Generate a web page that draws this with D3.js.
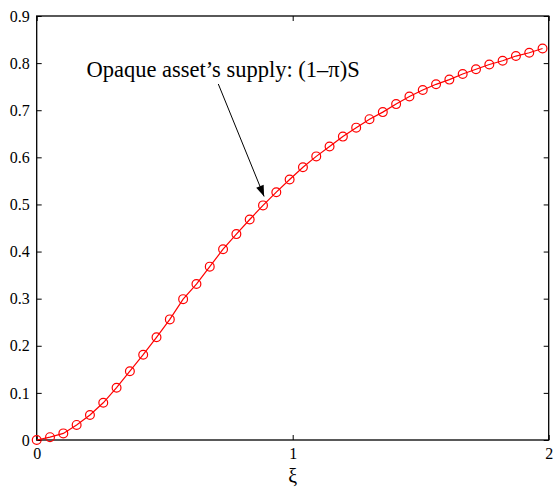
<!DOCTYPE html>
<html>
<head>
<meta charset="utf-8">
<script src="https://cdn.jsdelivr.net/npm/d3@7"></script>
<style>
  html, body { margin: 0; padding: 0; background: #fff; }
  svg { display: block; }
  text { font-family: "Liberation Serif", "Times New Roman", serif; fill: #000; }
</style>
</head>
<body>
<svg id="chart" width="554" height="489"></svg>
<script>
// ---- data ----
const xiValues = [0, 0.052, 0.104, 0.156, 0.208, 0.26, 0.312, 0.364, 0.416, 0.468,
  0.52, 0.572, 0.624, 0.676, 0.728, 0.78, 0.832, 0.884, 0.936, 0.988,
  1.04, 1.092, 1.144, 1.196, 1.248, 1.3, 1.352, 1.404, 1.456, 1.508,
  1.56, 1.612, 1.664, 1.716, 1.768, 1.82, 1.872, 1.924, 1.976];
const supplyValues = [0.0, 0.006, 0.014, 0.032, 0.053, 0.079, 0.111, 0.146, 0.181, 0.218,
  0.256, 0.299, 0.331, 0.368, 0.405, 0.437, 0.468, 0.498, 0.526, 0.553,
  0.579, 0.602, 0.623, 0.644, 0.663, 0.681, 0.696, 0.713, 0.729, 0.743,
  0.755, 0.765, 0.777, 0.787, 0.797, 0.805, 0.815, 0.822, 0.831];
const xTicks = [0, 1, 2];
const yTicks = [0, 0.1, 0.2, 0.3, 0.4, 0.5, 0.6, 0.7, 0.8, 0.9];
const xLabel = "ξ";
const annotationText = "Opaque asset’s supply: (1–π)S";
const annotationTarget = [0.9, 0.5];

(function () {
// ---- layout ----
const L = 36.7, R = 548.7, T = 16, B = 440;
const svg = d3.select("#chart");
const x = d3.scaleLinear().domain([0, 2]).range([L, R]);
const y = d3.scaleLinear().domain([0, 0.9]).range([B, T]);

const data = xiValues.map((v, i) => ({ x: v, y: supplyValues[i] }));

// axes (inward ticks on all four sides)
const tickLen = 5;
const gBottom = svg.append("g").attr("transform", `translate(0,${B})`)
  .call(d3.axisBottom(x).tickValues(xTicks).tickFormat(d3.format("d")).tickSizeInner(-tickLen).tickSizeOuter(0).tickPadding(8));
const gTop = svg.append("g").attr("transform", `translate(0,${T})`)
  .call(d3.axisTop(x).tickValues(xTicks).tickFormat("").tickSizeInner(-tickLen).tickSizeOuter(0));
const gLeft = svg.append("g").attr("transform", `translate(${L},0)`)
  .call(d3.axisLeft(y).tickValues(yTicks).tickFormat(d => d === 0 ? "0" : d3.format(".1f")(d)).tickSizeInner(-tickLen).tickSizeOuter(0).tickPadding(7));
const gRight = svg.append("g").attr("transform", `translate(${R},0)`)
  .call(d3.axisRight(y).tickValues(yTicks).tickFormat("").tickSizeInner(-tickLen).tickSizeOuter(0));

[gBottom, gTop, gLeft, gRight].forEach(g => {
  g.select(".domain").remove();
  g.selectAll(".tick line").attr("stroke", "#000").attr("stroke-width", 1);
  g.selectAll(".tick text").attr("font-size", 16).attr("font-family", "Liberation Serif");
});

// box
svg.append("rect").attr("x", L).attr("y", T).attr("width", R - L).attr("height", B - T)
  .attr("fill", "none").attr("stroke", "#000").attr("stroke-width", 1.3);

// line + markers
svg.append("path").datum(data)
  .attr("fill", "none").attr("stroke", "#ff0000").attr("stroke-width", 1.2)
  .attr("d", d3.line().x(d => x(d.x)).y(d => y(d.y)));
svg.append("g").selectAll("circle").data(data).join("circle")
  .attr("cx", d => x(d.x)).attr("cy", d => y(d.y)).attr("r", 4.4)
  .attr("fill", "none").attr("stroke", "#ff0000").attr("stroke-width", 1.2);

// x label
svg.append("text").attr("x", x(1)).attr("y", 483).attr("text-anchor", "middle")
  .attr("font-size", 20).text(xLabel);

// annotation
svg.append("text").attr("x", 86.5).attr("y", 77).attr("font-size", 22.5).text(annotationText);
const ax0 = 218.3, ay0 = 84;
const ax1 = x(annotationTarget[0]) - 3, ay1 = y(annotationTarget[1]) - 8;
svg.append("line").attr("x1", ax0).attr("y1", ay0).attr("x2", ax1).attr("y2", ay1)
  .attr("stroke", "#000").attr("stroke-width", 1);
const ang = Math.atan2(ay1 - ay0, ax1 - ax0);
const hl = 11, hw = 4;
const bx = ax1 - hl * Math.cos(ang), by = ay1 - hl * Math.sin(ang);
svg.append("path")
  .attr("d", `M${ax1},${ay1}L${bx + hw * Math.sin(ang)},${by - hw * Math.cos(ang)}L${bx - hw * Math.sin(ang)},${by + hw * Math.cos(ang)}Z`)
  .attr("fill", "#000");
})();
</script>
</body>
</html>
